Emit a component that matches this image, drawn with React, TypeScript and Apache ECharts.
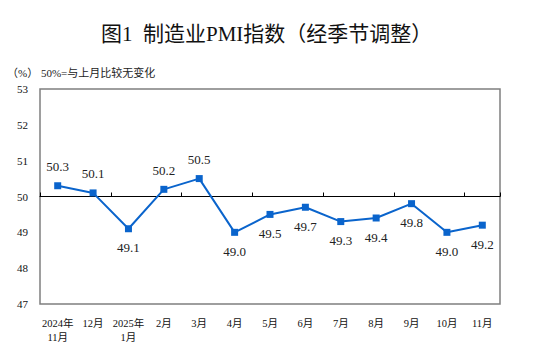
import React, { useEffect, useRef } from "react";
import * as echarts from "echarts";

const categories = ["2024年\n11月", "12月", "2025年\n1月", "2月", "3月", "4月", "5月", "6月", "7月", "8月", "9月", "10月", "11月"];
const pmiValues = [50.3, 50.1, 49.1, 50.2, 50.5, 49.0, 49.5, 49.7, 49.3, 49.4, 49.8, 49.0, 49.2];
const yMin = 47;
const yMax = 53;
const baseline = 50;

const SERIF = "'Liberation Serif', 'Times New Roman', 'Noto Sans CJK SC', serif";

export default function App() {
  const ref = useRef<HTMLDivElement>(null);
  useEffect(() => {
    if (!ref.current) return;
    const chart = echarts.init(ref.current, undefined, { renderer: "svg" });
    const gridTop = 89;
    const gridBottom = 48;
    const plotH = 352 - gridTop - gridBottom;
    const baseOffset = -((baseline - yMin) / (yMax - yMin)) * plotH;
    chart.setOption({
      animation: false,
      backgroundColor: "#ffffff",
      title: [
        {
          text: "图1  制造业PMI指数（经季节调整）",
          left: 96,
          top: 18,
          textStyle: { fontFamily: SERIF, fontSize: 21, fontWeight: "normal", color: "#111" },
        },
        {
          text: "（%） 50%=与上月比较无变化",
          left: 2,
          top: 62,
          textStyle: { fontFamily: SERIF, fontSize: 11, fontWeight: "normal", color: "#222" },
        },
      ],
      grid: {
        left: 40,
        right: 42,
        top: gridTop,
        bottom: gridBottom,
        show: true,
        borderColor: "#7f7f7f",
        borderWidth: 1.5,
        backgroundColor: "transparent",
      },
      xAxis: [
        {
          type: "category",
          data: categories,
          boundaryGap: true,
          position: "bottom",
          axisLine: { show: false },
          axisTick: { show: false },
          splitLine: { show: false },
          axisLabel: {
            interval: 0,
            margin: 12,
            fontFamily: SERIF,
            fontSize: 10.5,
            color: "#111",
            lineHeight: 14,
          },
        },
        {
          type: "category",
          data: categories,
          boundaryGap: true,
          position: "bottom",
          offset: baseOffset,
          axisLine: { show: true, lineStyle: { color: "#000", width: 1 } },
          axisTick: { show: true, inside: true, length: 4, lineStyle: { color: "#000", width: 1 } },
          axisLabel: { show: false },
          splitLine: { show: false },
        },
      ],
      yAxis: {
        type: "value",
        min: yMin,
        max: yMax,
        interval: 1,
        axisLine: { show: false },
        axisTick: { show: false },
        splitLine: { show: false },
        axisLabel: { margin: 12, fontFamily: SERIF, fontSize: 11, color: "#111" },
      },
      series: [
        {
          type: "line",
          xAxisIndex: 0,
          data: pmiValues.map((v) => ({
            value: v,
            label: { position: v > baseline ? "top" : "bottom" },
          })),
          symbol: "rect",
          symbolSize: 7,
          lineStyle: { color: "#0a64cc", width: 2 },
          itemStyle: { color: "#0a64cc" },
          label: {
            show: true,
            distance: 9,
            fontFamily: SERIF,
            fontSize: 13,
            color: "#222",
            formatter: (p: any) => Number(p.value).toFixed(1),
          },
        },
      ],
    });
    return () => chart.dispose();
  }, []);
  return <div ref={ref} style={{ width: 542, height: 352, margin: -8 }} />;
}
